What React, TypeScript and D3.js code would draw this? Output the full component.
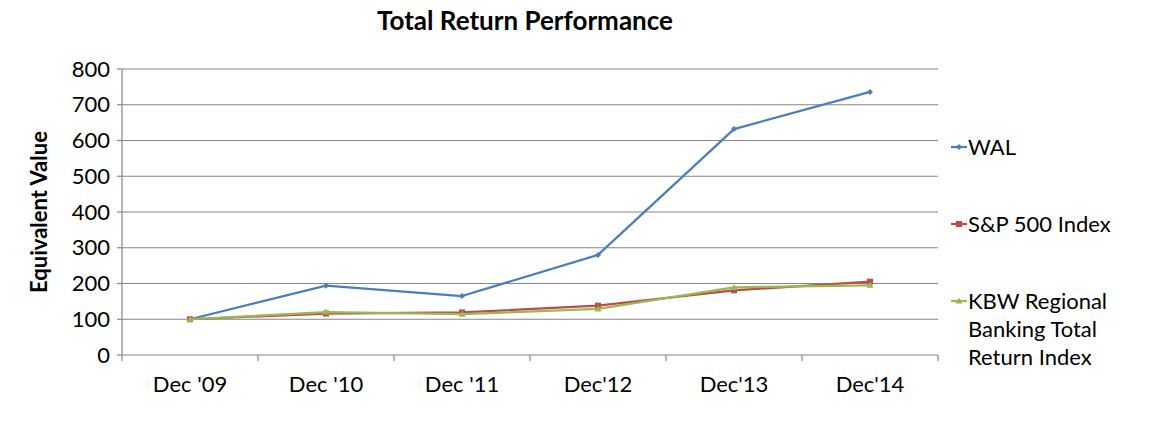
import React from "react";
import * as d3 from "d3";

const categories = ["Dec '09", "Dec '10", "Dec '11", "Dec'12", "Dec'13", "Dec'14"];
const walValues = [100, 194, 165, 280, 632, 736];
const spValues = [100, 116, 119, 138, 181, 205];
const kbwValues = [100, 120, 114, 129, 189, 195];
const yTicks = [0, 100, 200, 300, 400, 500, 600, 700, 800];

const series = [
  { name: ["WAL"], values: walValues, color: "#4A7EBB", marker: "diamond" },
  { name: ["S&P 500 Index"], values: spValues, color: "#BE4B48", marker: "square" },
  { name: ["KBW Regional", "Banking Total", "Return Index"], values: kbwValues, color: "#98B954", marker: "triangle" },
];

const W = 1162, H = 428;
const left = 122, right = 938, top = 69, bottom = 355;
const font = "Lato, Carlito, 'Open Sans', sans-serif";

export default function App() {
  const x = d3.scaleBand<string>().domain(categories).range([left, right]);
  const y = d3.scaleLinear().domain([0, 800]).range([bottom, top]);
  const line = d3.line<number>()
    .x((_, i) => (x(categories[i]) as number) + x.bandwidth() / 2)
    .y((d) => y(d));
  const legendY = [147, 224, 301];

  const marker = (type: string, cx: number, cy: number, color: string, key: string) => {
    if (type === "square") return <rect key={key} x={cx - 3} y={cy - 3} width={6} height={6} fill={color} />;
    if (type === "triangle") return <path key={key} d={`M${cx},${cy - 3.5}L${cx + 3.5},${cy + 2.5}L${cx - 3.5},${cy + 2.5}Z`} fill={color} />;
    return <path key={key} d={`M${cx},${cy - 3}L${cx + 3},${cy}L${cx},${cy + 3}L${cx - 3},${cy}Z`} fill={color} />;
  };

  return (
    <svg width={W} height={H} style={{ position: "absolute", left: 0, top: 0, background: "#fff" }}>
      <rect width={W} height={H} fill="#fff" />
      <text x={525} y={30} textAnchor="middle" fontFamily={font} fontWeight="bold" fontSize={26} fill="#000">
        Total Return Performance
      </text>
      {yTicks.map((t) => (
        <g key={t}>
          {t > 0 && <line x1={left} x2={right} y1={y(t)} y2={y(t)} stroke="#868686" strokeWidth={1.2} />}
          <line x1={left - 5} x2={left} y1={y(t)} y2={y(t)} stroke="#868686" strokeWidth={1.2} />
          <text x={110} y={y(t)} dy="0.35em" textAnchor="end" fontFamily={font} fontSize={22} fill="#000">{t}</text>
        </g>
      ))}
      <line x1={left} x2={left} y1={top} y2={bottom} stroke="#868686" strokeWidth={1.2} />
      <line x1={left} x2={right} y1={bottom} y2={bottom} stroke="#868686" strokeWidth={1.2} />
      {categories.map((c, i) => (
        <line key={"t" + i} x1={x(c) as number} x2={x(c) as number} y1={bottom} y2={bottom + 6} stroke="#868686" strokeWidth={1.2} />
      ))}
      <line x1={right} x2={right} y1={bottom} y2={bottom + 6} stroke="#868686" strokeWidth={1.2} />
      {categories.map((c) => (
        <text key={c} x={(x(c) as number) + x.bandwidth() / 2} y={392} textAnchor="middle" fontFamily={font} fontSize={22} fill="#000">{c}</text>
      ))}
      <text transform={`translate(47,${(top + bottom) / 2}) rotate(-90)`} textAnchor="middle" fontFamily={font} fontWeight="bold" fontSize={22} fill="#000">
        Equivalent Value
      </text>
      {series.map((s, si) => (
        <g key={si}>
          <path d={line(s.values) as string} fill="none" stroke={s.color} strokeWidth={2.25} strokeLinejoin="round" />
          {s.values.map((v, i) => marker(s.marker, (x(categories[i]) as number) + x.bandwidth() / 2, y(v), s.color, `${si}-${i}`))}
        </g>
      ))}
      {series.map((s, si) => (
        <g key={"l" + si}>
          <line x1={951} x2={967} y1={legendY[si]} y2={legendY[si]} stroke={s.color} strokeWidth={2.25} />
          {marker(s.marker, 959, legendY[si], s.color, "lm" + si)}
          {s.name.map((n, j) => (
            <text key={j} x={968} y={legendY[si] + j * 28} dy="0.35em" fontFamily={font} fontSize={22} fill="#000">{n}</text>
          ))}
        </g>
      ))}
    </svg>
  );
}
